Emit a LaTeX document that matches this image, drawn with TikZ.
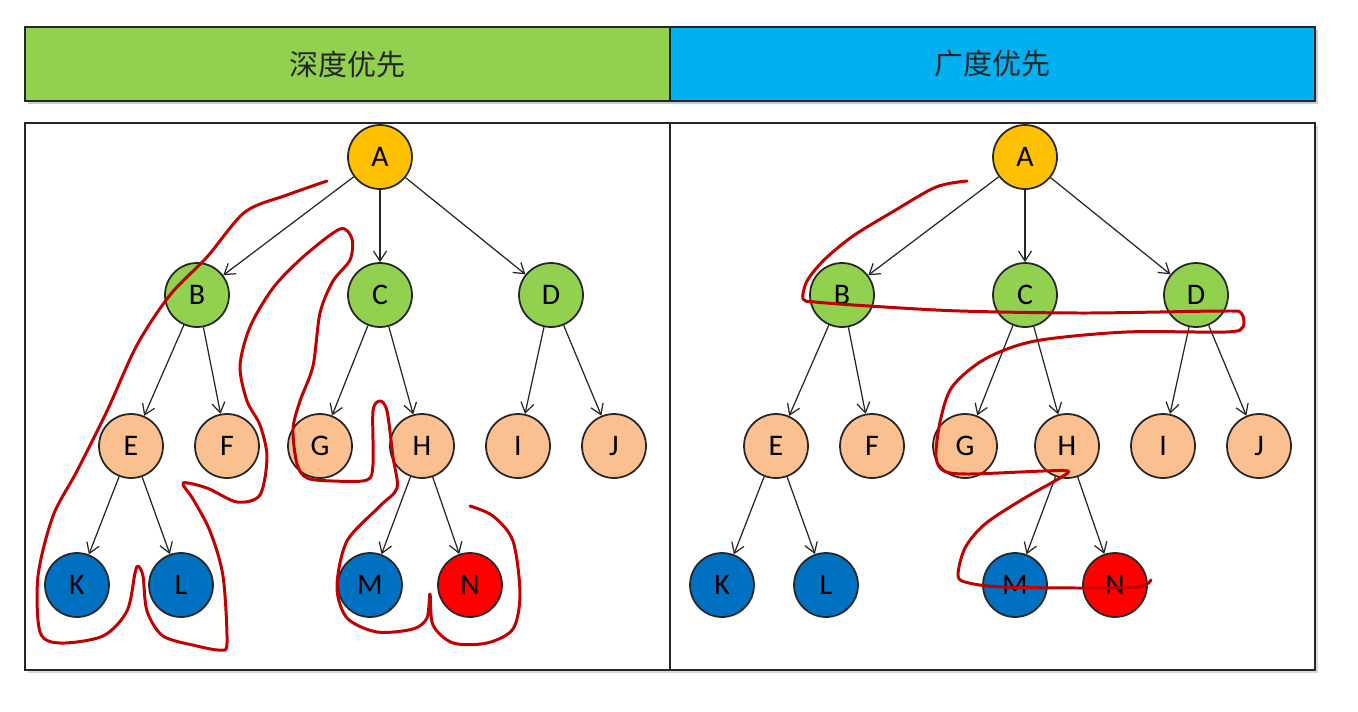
\documentclass[tikz,border=0pt]{standalone}
\usepackage{fontspec}
\setmainfont{Carlito}
\newfontfamily\cjkfont{Noto Sans CJK SC}
\usepackage{xcolor}
\usetikzlibrary{arrows.meta}
\definecolor{barGreen}{HTML}{92D050}
\definecolor{barBlue}{HTML}{00B0F0}
\definecolor{rootOrange}{HTML}{FFC000}
\definecolor{midPeach}{HTML}{FAC090}
\definecolor{leafBlue}{HTML}{0070C0}
\definecolor{goalRed}{HTML}{FF0000}
\definecolor{traceRed}{HTML}{C00000}
\tikzset{
  vertex/.style={circle, draw=black!85, line width=1pt, minimum size=1.28cm,
                 inner sep=0pt, font=\fontsize{17}{17}\selectfont},
  rootnode/.style={vertex, fill=rootOrange},
  levelone/.style={vertex, fill=barGreen},
  leveltwo/.style={vertex, fill=midPeach},
  leafnode/.style={vertex, fill=leafBlue},
  goalnode/.style={vertex, fill=goalRed},
  treearrow/.style={-{Straight Barb[length=2mm, width=2.6mm]}, line width=0.7pt, black!85},
  headbar/.style={draw=black!85, line width=1.2pt, minimum width=12.9cm, minimum height=1.48cm,
                  inner sep=0pt, font=\cjkfont\fontsize{16.5}{20}\selectfont, text=black!85},
  panelbox/.style={draw=black!85, line width=1pt, minimum width=12.9cm, minimum height=10.94cm, inner sep=0pt},
  tracepath/.style={traceRed, line width=1.7pt, line cap=round, line join=round}
}

% one search tree, A..N (coordinates of the left panel)
\newcommand{\searchtree}{%
  \node[rootnode] (A) at (380,157) {A};
  \node[levelone] (B) at (197,295) {B};
  \node[levelone] (C) at (380,295) {C};
  \node[levelone] (D) at (551,295) {D};
  \node[leveltwo] (E) at (131,446) {E};
  \node[leveltwo] (F) at (227,446) {F};
  \node[leveltwo] (G) at (320,446) {G};
  \node[leveltwo] (H) at (422,446) {H};
  \node[leveltwo] (I) at (518,446) {I};
  \node[leveltwo] (J) at (614,446) {J};
  \node[leafnode] (K) at (77,585) {K};
  \node[leafnode] (L) at (181,585) {L};
  \node[leafnode] (M) at (370,585) {M};
  \node[goalnode] (N) at (470,585) {N};
  \draw[treearrow] (A) -- (B);
  \draw[treearrow] (A) -- (C);
  \draw[treearrow] (A) -- (D);
  \draw[treearrow] (B) -- (E);
  \draw[treearrow] (B) -- (F);
  \draw[treearrow] (C) -- (G);
  \draw[treearrow] (C) -- (H);
  \draw[treearrow] (D) -- (I);
  \draw[treearrow] (D) -- (J);
  \draw[treearrow] (E) -- (K);
  \draw[treearrow] (E) -- (L);
  \draw[treearrow] (H) -- (M);
  \draw[treearrow] (H) -- (N);
}

\begin{document}
\begin{tikzpicture}[x=0.02cm, y=-0.02cm]
\useasboundingbox (0,0) rectangle (1358,711);
\fill[white] (0,0) rectangle (1358,711);

% Header bars
\fill[black!20] (28,30) rectangle (1318,104);
\node[headbar, fill=barGreen] (dfshead) at (347.5,64) {深度优先};
\node[headbar, fill=barBlue] (bfshead) at (992.5,64) {广度优先};

% Panels
\fill[black!15] (28,126) rectangle (1318,673);
\node[panelbox, fill=white] (dfspanel) at (347.5,396.5) {};
\node[panelbox, fill=white] (bfspanel) at (992.5,396.5) {};

% Trees
\begin{scope}[name prefix=dfs-]
  \searchtree
\end{scope}
\begin{scope}[shift={(645,0)}, name prefix=bfs-]
  \searchtree
\end{scope}

% Depth-first trace
\draw[tracepath] plot[smooth, tension=0.5] coordinates {
  (327,181) (287,195) (245,212) (207,257) (170,295) (137,345) (107,411) (77,471) (53,516)
  (38,576) (40,632) (60,643) (103,636) (127,611) (135,573) (138,566) (143,576) (147,611)
  (163,636) (197,646) (220,650) (227,643) (223,576) (210,531) (193,499) (183,483) (207,488)
  (237,502) (260,495) (267,457) (260,425) (247,401) (240,366) (250,327) (273,288) (303,257)
  (340,229) (352,239) (350,260) (333,281) (320,313) (313,366) (300,401) (293,429) (297,464)
  (307,478) (333,481) (367,480) (373,464) (373,411) (380,401) (387,411) (393,457) (397,488)
  (380,506) (347,541) (337,587) (347,618) (377,632) (413,629) (427,618) (430,594) (433,625)
  (453,643) (487,643) (513,629) (520,594) (513,541) (493,516) (470,506)};

% Breadth-first trace
\draw[tracepath] plot[smooth, tension=0.5] coordinates {
  (967,181) (936,187) (894,211) (853,236) (824,260) (807,281) (803,299) (815,302) (869,306)
  (960,311) (1085,313) (1222,311) (1241,313) (1243,327) (1226,332) (1126,332) (1035,341)
  (985,359) (952,387) (940,422) (936,457) (944,471) (969,474) (1043,471) (1068,471)
  (1060,478) (1023,499) (985,524) (965,548) (958,576) (969,583) (1002,587) (1085,588)
  (1139,587) (1151,580)};

\end{tikzpicture}
\end{document}
